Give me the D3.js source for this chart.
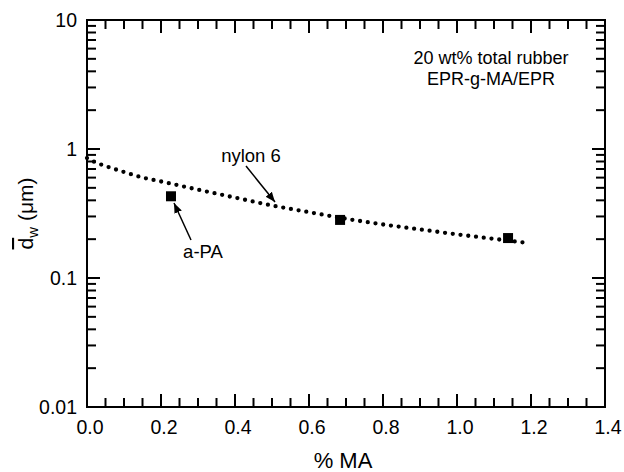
<!DOCTYPE html>
<html>
<head>
<meta charset="utf-8">
<script src="https://cdn.jsdelivr.net/npm/d3@7"></script>
<style>
  body { margin: 0; background: #fff; }
  text { font-family: "Liberation Sans", Arial, sans-serif; fill: #000; }
</style>
</head>
<body>
<svg id="chart" width="624" height="472"></svg>
<script>
const WIDTH_PX = 624;
const HEIGHT_PX = 472;
const MARGIN = {left: 87, right: 19, top: 20, bottom: 65};

// measured particle size for each blend
const maPercent = [0.227, 0.684, 1.138];
const dwMicron = [0.43, 0.282, 0.204];

// dotted nylon 6 curve
const fitMaPercent = [0, 0.025, 0.05, 0.1, 0.15, 0.2, 0.3, 0.4, 0.5, 0.6, 0.7, 0.8, 0.9, 1.0, 1.1, 1.19];
const fitDwMicron = [0.85, 0.783, 0.738, 0.663, 0.601, 0.56, 0.484, 0.42, 0.365, 0.324, 0.288, 0.26, 0.238, 0.218, 0.201, 0.187];

const xTickValues = [0, 0.2, 0.4, 0.6, 0.8, 1.0, 1.2, 1.4];
const xTickLabels = ['0.0', '0.2', '0.4', '0.6', '0.8', '1.0', '1.2', '1.4'];
const yTickValues = [0.01, 0.1, 1, 10];
const yTickLabels = ['0.01', '0.1', '1', '10'];

const MAJOR_TICK = 13;
const MINOR_TICK = 9;

let svg = d3.select('#chart');

let xScale = d3.scaleLinear()
    .domain([0, 1.4])
    .range([MARGIN.left, WIDTH_PX - MARGIN.right]);

let yScale = d3.scaleLog()
    .domain([0.01, 10])
    .range([HEIGHT_PX - MARGIN.bottom, MARGIN.top]);

const x0 = xScale.range()[0], x1 = xScale.range()[1];
const y0 = yScale.range()[0], y1 = yScale.range()[1];

// minor ticks: every 0.05 on x, 2..9 in each decade on y
let xMinor = d3.range(0, 29).map(function(i) { return i * 0.05; })
    .filter(function(v) { return Math.abs(v / 0.2 - Math.round(v / 0.2)) > 1e-6; });
let yMinor = [];
[0.01, 0.1, 1].forEach(function(d) {
  for (let k = 2; k <= 9; k++) yMinor.push(d * k);
});

// inward ticks on all four sides
let ticks = svg.append('g')
    .attr('stroke', '#000')
    .attr('stroke-width', 2);

function xTick(v, len) {
  ticks.append('line').attr('x1', xScale(v)).attr('x2', xScale(v))
      .attr('y1', y0).attr('y2', y0 - len);
  ticks.append('line').attr('x1', xScale(v)).attr('x2', xScale(v))
      .attr('y1', y1).attr('y2', y1 + len);
}
function yTick(v, len) {
  ticks.append('line').attr('y1', yScale(v)).attr('y2', yScale(v))
      .attr('x1', x0).attr('x2', x0 + len);
  ticks.append('line').attr('y1', yScale(v)).attr('y2', yScale(v))
      .attr('x1', x1).attr('x2', x1 - len);
}
xTickValues.forEach(function(v) { xTick(v, MAJOR_TICK); });
xMinor.forEach(function(v) { xTick(v, MINOR_TICK); });
yTickValues.forEach(function(v) { yTick(v, MAJOR_TICK); });
yMinor.forEach(function(v) { yTick(v, MINOR_TICK); });

svg.append('rect')
    .attr('x', x0).attr('y', y1)
    .attr('width', x1 - x0).attr('height', y0 - y1)
    .attr('fill', 'none')
    .attr('stroke', '#000')
    .attr('stroke-width', 2);

// tick labels
svg.append('g').selectAll('text')
    .data(xTickValues)
    .join('text')
    .attr('x', function(v) { return xScale(v) + 3; })
    .attr('y', y0 + 27)
    .attr('text-anchor', 'middle')
    .attr('font-size', 19.5)
    .text(function(v, i) { return xTickLabels[i]; });

svg.append('g').selectAll('text')
    .data(yTickValues)
    .join('text')
    .attr('x', x0 - 10)
    .attr('y', function(v) { return yScale(v) + 7; })
    .attr('text-anchor', 'end')
    .attr('font-size', 19.5)
    .text(function(v, i) { return yTickLabels[i]; });

// axis titles
svg.append('text')
    .attr('x', 343)
    .attr('y', 468)
    .attr('text-anchor', 'middle')
    .attr('font-size', 22)
    .text('% MA');

let yTitle = svg.append('text')
    .attr('transform', 'translate(33,' + ((y0 + y1) / 2) + ') rotate(-90)')
    .attr('text-anchor', 'middle')
    .attr('font-size', 21);
yTitle.append('tspan').attr('text-decoration', 'overline').text('d');
yTitle.append('tspan').attr('font-size', 15).attr('dy', 5).text('w');
yTitle.append('tspan').attr('dy', -5).text(' (μm)');

// dotted fit curve
let fitLine = d3.line()
    .x(function(v, i) { return xScale(fitMaPercent[i]); })
    .y(function(v) { return yScale(v); })
    .curve(d3.curveMonotoneX);

svg.append('path')
    .attr('d', fitLine(fitDwMicron))
    .attr('fill', 'none')
    .attr('stroke', '#000')
    .attr('stroke-width', 4.3)
    .attr('stroke-linecap', 'round')
    .attr('stroke-dasharray', '0 7.8');

// data squares
const SQ = 10;
svg.append('g').selectAll('rect')
    .data(dwMicron)
    .join('rect')
    .attr('x', function(v, i) { return xScale(maPercent[i]) - SQ / 2; })
    .attr('y', function(v) { return yScale(v) - SQ / 2; })
    .attr('width', SQ)
    .attr('height', SQ)
    .attr('fill', '#000');

// annotations with arrows
svg.append('defs').append('marker')
    .attr('id', 'arrow')
    .attr('viewBox', '0 0 10 10')
    .attr('refX', 10).attr('refY', 5)
    .attr('markerWidth', 10).attr('markerHeight', 10)
    .attr('markerUnits', 'userSpaceOnUse')
    .attr('orient', 'auto')
    .append('path')
    .attr('d', 'M0,1 L10,5 L0,9 z')
    .attr('fill', '#000');

svg.append('line')
    .attr('x1', 246).attr('y1', 166)
    .attr('x2', 275).attr('y2', 202)
    .attr('stroke', '#000').attr('stroke-width', 1.5)
    .attr('marker-end', 'url(#arrow)');

svg.append('line')
    .attr('x1', 191).attr('y1', 240)
    .attr('x2', 174).attr('y2', 203)
    .attr('stroke', '#000').attr('stroke-width', 1.5)
    .attr('marker-end', 'url(#arrow)');

svg.append('text')
    .attr('x', 251).attr('y', 162)
    .attr('text-anchor', 'middle')
    .attr('font-size', 18.5)
    .text('nylon 6');

svg.append('text')
    .attr('x', 203).attr('y', 258)
    .attr('text-anchor', 'middle')
    .attr('font-size', 18.5)
    .text('a-PA');

svg.append('text')
    .attr('x', 491).attr('y', 64)
    .attr('text-anchor', 'middle')
    .attr('font-size', 18)
    .text('20 wt% total rubber');

svg.append('text')
    .attr('x', 491).attr('y', 85)
    .attr('text-anchor', 'middle')
    .attr('font-size', 18)
    .text('EPR-g-MA/EPR');
</script>
</body>
</html>
